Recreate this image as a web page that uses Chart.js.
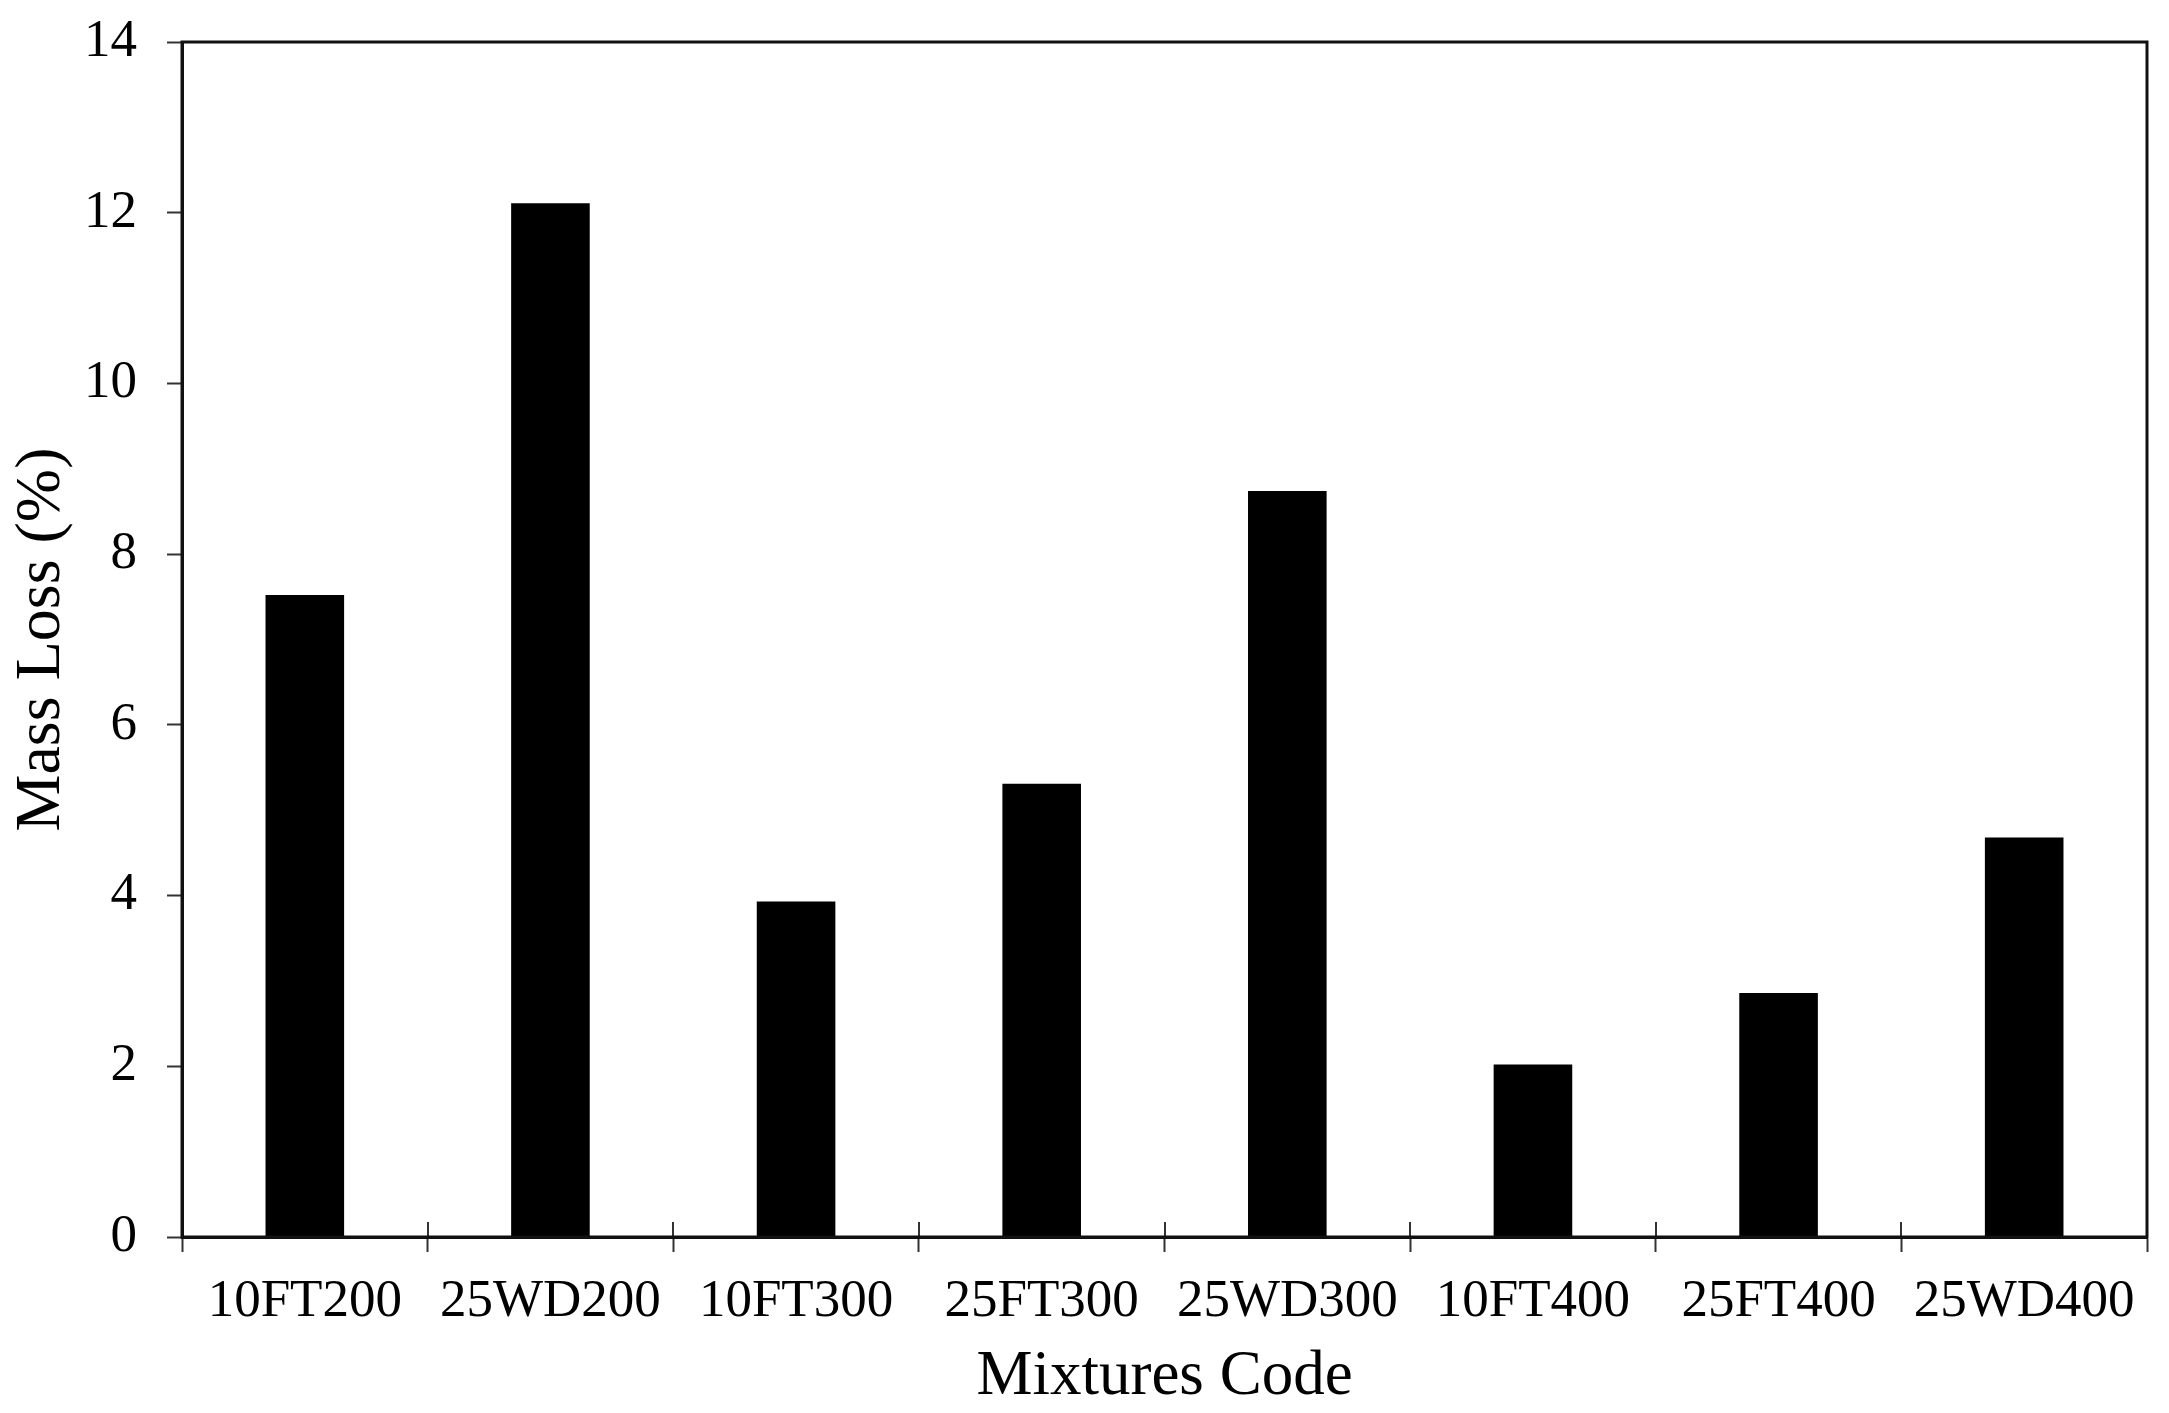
<!DOCTYPE html>
<html>
<head>
<meta charset="utf-8">
<script src="https://cdn.jsdelivr.net/npm/chart.js@4"></script>
<style>
  html, body { margin: 0; padding: 0; background: #ffffff; }
  #wrap { width: 2169px; height: 1413px; }
</style>
</head>
<body>
<div id="wrap"><canvas id="c" width="2169" height="1413"></canvas></div>
<script>
const categories = ["10FT200", "25WD200", "10FT300", "25FT300", "25WD300", "10FT400", "25FT400", "25WD400"];
const massLoss = [7.52, 12.11, 3.93, 5.31, 8.74, 2.02, 2.86, 4.68];
const yTicks = [0, 2, 4, 6, 8, 10, 12, 14];
const xTitle = "Mixtures Code";
const yTitle = "Mass Loss (%)";

const FONT = "'Liberation Serif', 'Times New Roman', serif";

const framePlugin = {
  id: 'frame',
  afterDraw(chart) {
    const ctx = chart.ctx;
    const a = chart.chartArea;
    const xs = chart.scales.x;
    ctx.save();
    ctx.strokeStyle = '#333';
    ctx.lineWidth = 2;
    const half = (xs.getPixelForValue(1) - xs.getPixelForValue(0)) / 2;
    for (let i = 1; i < categories.length; i++) {
      const px = Math.round(xs.getPixelForValue(i) - half);
      ctx.beginPath();
      ctx.moveTo(px, a.bottom - 15);
      ctx.lineTo(px, a.bottom);
      ctx.stroke();
    }
    ctx.strokeStyle = '#111';
    ctx.lineWidth = 3;
    ctx.strokeRect(a.left, a.top, a.right - a.left, a.bottom - a.top);
    ctx.restore();
  }
};

new Chart(document.getElementById('c'), {
  type: 'bar',
  data: {
    labels: categories,
    datasets: [{
      data: massLoss,
      backgroundColor: '#000000',
      borderWidth: 0,
      barPercentage: 0.32,
      categoryPercentage: 1.0
    }]
  },
  options: {
    responsive: false,
    animation: false,
    devicePixelRatio: 1,
    layout: { padding: { left: 0, right: 22, top: 42, bottom: 0 } },
    plugins: { legend: { display: false }, tooltip: { enabled: false } },
    scales: {
      x: {
        offset: true,
        grid: {
          offset: true,
          drawOnChartArea: false,
          drawTicks: true,
          tickLength: 15,
          tickWidth: 2,
          tickColor: '#333'
        },
        border: { display: true, color: '#111', width: 3 },
        ticks: {
          color: '#000',
          font: { family: FONT, size: 53 },
          padding: 18,
          maxRotation: 0,
          autoSkip: false
        },
        title: {
          display: true,
          text: xTitle,
          color: '#000',
          font: { family: FONT, size: 63 },
          padding: { top: 0, bottom: -2 }
        },
        afterFit(s) {
          s.height = 1413 - 1237;
          s.paddingLeft = 0; s.paddingRight = 0;
        }
      },
      y: {
        min: 0,
        max: 14,
        afterBuildTicks(s) { s.ticks = yTicks.map(v => ({ value: v })); },
        grid: {
          drawOnChartArea: false,
          drawTicks: true,
          tickLength: 15,
          tickWidth: 2,
          tickColor: '#333'
        },
        border: { display: true, color: '#111', width: 3 },
        ticks: {
          color: '#000',
          font: { family: FONT, size: 53 },
          padding: 30
        },
        title: {
          display: true,
          text: yTitle,
          color: '#000',
          font: { family: FONT, size: 64 },
          padding: { top: 4, bottom: 0 }
        },
        afterFit(s) {
          s.width = 182;
          s.paddingTop = 0; s.paddingBottom = 0;
        }
      }
    }
  },
  plugins: [framePlugin]
});
</script>
</body>
</html>
